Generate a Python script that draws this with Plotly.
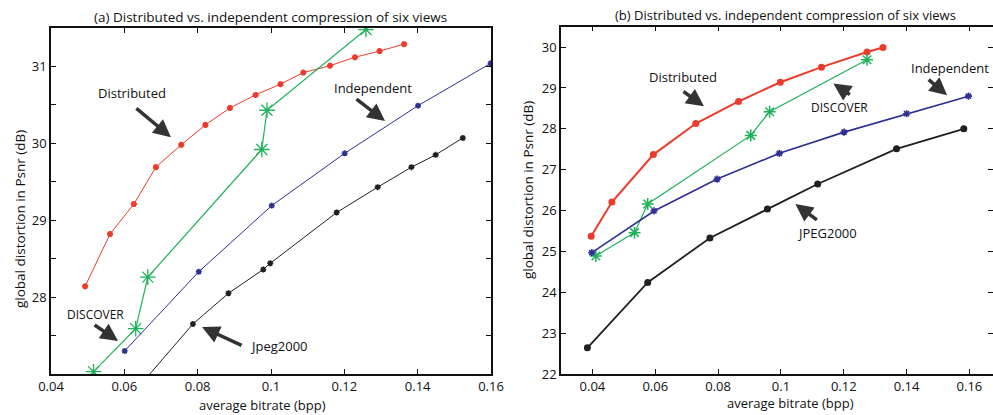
import plotly.graph_objects as go

# ---------- data: panel (a) ----------
a_dist_x = [0.0493, 0.0561, 0.0626, 0.0686, 0.0755, 0.0821, 0.0888, 0.0958, 0.1026, 0.1088, 0.1161, 0.1229, 0.1296, 0.1363]
a_dist_y = [28.14, 28.82, 29.21, 29.69, 29.98, 30.24, 30.46, 30.63, 30.77, 30.92, 31.01, 31.12, 31.20, 31.29]
a_disc_x = [0.0516, 0.0631, 0.0664, 0.0975, 0.0989, 0.1259]
a_disc_y = [27.03, 27.59, 28.26, 29.92, 30.43, 31.48]
a_ind_x = [0.0601, 0.0803, 0.1002, 0.1201, 0.1401, 0.1599]
a_ind_y = [27.30, 28.33, 29.19, 29.87, 30.49, 31.04]
a_jpg_x = [0.0590, 0.0787, 0.0884, 0.0979, 0.0998, 0.1179, 0.1291, 0.1383, 0.1449, 0.1523]
a_jpg_y = [26.56, 27.65, 28.05, 28.36, 28.44, 29.10, 29.43, 29.69, 29.85, 30.07]

# ---------- data: panel (b) ----------
b_dist_x = [0.0396, 0.0462, 0.0594, 0.0729, 0.0865, 0.0998, 0.1129, 0.1274, 0.1325]
b_dist_y = [25.37, 26.21, 27.37, 28.13, 28.67, 29.14, 29.51, 29.88, 29.99]
b_disc_x = [0.0411, 0.0534, 0.0576, 0.0904, 0.0964, 0.1274]
b_disc_y = [24.89, 25.46, 26.16, 27.84, 28.42, 29.69]
b_ind_x = [0.0398, 0.0596, 0.0797, 0.0995, 0.1201, 0.1400, 0.1597]
b_ind_y = [24.97, 25.99, 26.77, 27.40, 27.92, 28.37, 28.80]
b_jpg_x = [0.0384, 0.0576, 0.0774, 0.0957, 0.1117, 0.1368, 0.1582]
b_jpg_y = [22.64, 24.24, 25.33, 26.04, 26.65, 27.51, 28.00]

x_ticks = [0.04, 0.06, 0.08, 0.10, 0.12, 0.14, 0.16]
x_labels = ["0.04", "0.06", "0.08", "0.1", "0.12", "0.14", "0.16"]
a_y_ticks = [27.5, 28, 28.5, 29, 29.5, 30, 30.5, 31, 31.5]
a_y_labels = ["", "28", "", "29", "", "30", "", "31", ""]
b_y_ticks = [22, 23, 24, 25, 26, 27, 28, 29, 30]
b_y_labels = ["22", "23", "24", "25", "26", "27", "28", "29", "30"]

RED = "#ec3b2b"
GREEN = "#1fb25a"
BLUE = "#2e3192"
BLACK = "#231f20"
ARROW = "#333333"
FONT = "Open Sans"

fig = go.Figure()

def add(x, y, color, lw, sym, ms, mlw, xa, ya):
    fig.add_trace(go.Scatter(
        x=x, y=y, mode="lines+markers", xaxis=xa, yaxis=ya, showlegend=False,
        line=dict(color=color, width=lw),
        marker=dict(symbol=sym, size=ms, color=color, line=dict(color=color, width=mlw)),
        cliponaxis=True,
    ))

# panel (a)
add(a_dist_x, a_dist_y, RED, 1, "asterisk-open", 5, 2, "x", "y")
add(a_disc_x, a_disc_y, GREEN, 1.2, "asterisk-open", 13, 1.3, "x", "y")
add(a_ind_x, a_ind_y, BLUE, 1, "asterisk-open", 5, 1.6, "x", "y")
add(a_jpg_x, a_jpg_y, BLACK, 1, "asterisk-open", 5, 1.6, "x", "y")
# panel (b)
add(b_dist_x, b_dist_y, RED, 2, "circle", 7, 0, "x2", "y2")
add(b_disc_x, b_disc_y, GREEN, 1.2, "asterisk-open", 10, 1.5, "x2", "y2")
add(b_ind_x, b_ind_y, BLUE, 1.6, "asterisk-open", 6, 1.6, "x2", "y2")
add(b_jpg_x, b_jpg_y, BLACK, 1.8, "circle", 7, 0, "x2", "y2")

axis_common = dict(
    showline=True, linecolor="#111111", linewidth=1.5, mirror="ticks",
    ticks="inside", ticklen=5, tickcolor="#111111", tickwidth=1,
    showgrid=False, zeroline=False, automargin=False,
    tickfont=dict(family=FONT, size=13, color="#111111"),
)

fig.update_layout(
    width=993, height=415,
    margin=dict(l=0, r=0, t=0, b=0, autoexpand=False),
    paper_bgcolor="white", plot_bgcolor="white",
    xaxis=dict(domain=[51/993, 491/993], range=[0.04, 0.16], tickvals=x_ticks, ticktext=x_labels,
               anchor="y", **axis_common),
    yaxis=dict(domain=[1-374/415, 1-28/415], range=[27.0, 31.5], tickvals=a_y_ticks, ticktext=a_y_labels,
               anchor="x", **axis_common),
    xaxis2=dict(domain=[561/993, 1.0], range=[0.03, 0.1675], tickvals=x_ticks, ticktext=x_labels,
                anchor="y2", **axis_common),
    yaxis2=dict(domain=[1-374/415, 1-26.7/415], range=[22, 30.5], tickvals=b_y_ticks, ticktext=b_y_labels,
                anchor="x2", **axis_common),
)

ann = []
def text(t, x, y, xref, yref, size=13, xanchor="center", angle=0):
    ann.append(dict(text=t, x=x, y=y, xref=xref, yref=yref, showarrow=False,
                    xanchor=xanchor, yanchor="middle", textangle=angle,
                    font=dict(family=FONT, size=size, color="#111111")))

def arrow(x, y, ax, ay, xref, yref):
    ann.append(dict(text="", x=x, y=y, ax=ax, ay=ay, xref=xref, yref=yref,
                    showarrow=True, arrowhead=2, arrowsize=1.0, arrowwidth=3.5,
                    arrowcolor=ARROW, standoff=0, startstandoff=0))

# titles
text("(a) Distributed vs. independent compression of six views", 270/993, 1-17/415, "paper", "paper", 13.5)
text("(b) Distributed vs. independent compression of six views", 785/993, 1-15/415, "paper", "paper", 13)
text("average bitrate (bpp)", 262/993, 1-405/415, "paper", "paper", 13)
text("average bitrate (bpp)", 790/993, 1-403/415, "paper", "paper", 13)
text("global distortion in Psnr (dB)", 20/993, 1-219/415, "paper", "paper", 13.5, angle=-90)
text("global distortion in Psnr (dB)", 528/993, 1-190/415, "paper", "paper", 13.5, angle=-90)

# panel (a) labels
text("Distributed", 0.0621, 30.66, "x", "y")
text("Independent", 0.1278, 30.72, "x", "y")
text("DISCOVER", 0.0520, 27.78, "x", "y", 12)
text("Jpeg2000", 0.0937, 27.37, "x", "y", 13, xanchor="left")
arrow(0.0727, 30.08, -36, -30, "x", "y")
arrow(0.1311, 30.29, -30, -23, "x", "y")
arrow(0.0583, 27.43, -25, -17, "x", "y")
arrow(0.0812, 27.61, 41, 19, "x", "y")

# panel (b) labels
text("Distributed", 0.0688, 29.26, "x2", "y2")
text("DISCOVER", 0.1187, 28.53, "x2", "y2", 12)
text("Independent", 0.1538, 29.48, "x2", "y2")
text("JPEG2000", 0.1148, 25.45, "x2", "y2")
arrow(0.0755, 28.55, -22, -16, "x2", "y2")
arrow(0.1167, 29.11, 18, 12, "x2", "y2")
arrow(0.1529, 28.82, -20, -17, "x2", "y2")
arrow(0.1046, 26.16, 23, 17, "x2", "y2")

fig.update_layout(annotations=ann)
fig.write_html(
    "out.html",
    config={"displayModeBar": False},
    post_script="document.body.style.margin='0px';document.body.style.padding='0px';"
                "document.body.style.overflow='hidden';",
)
